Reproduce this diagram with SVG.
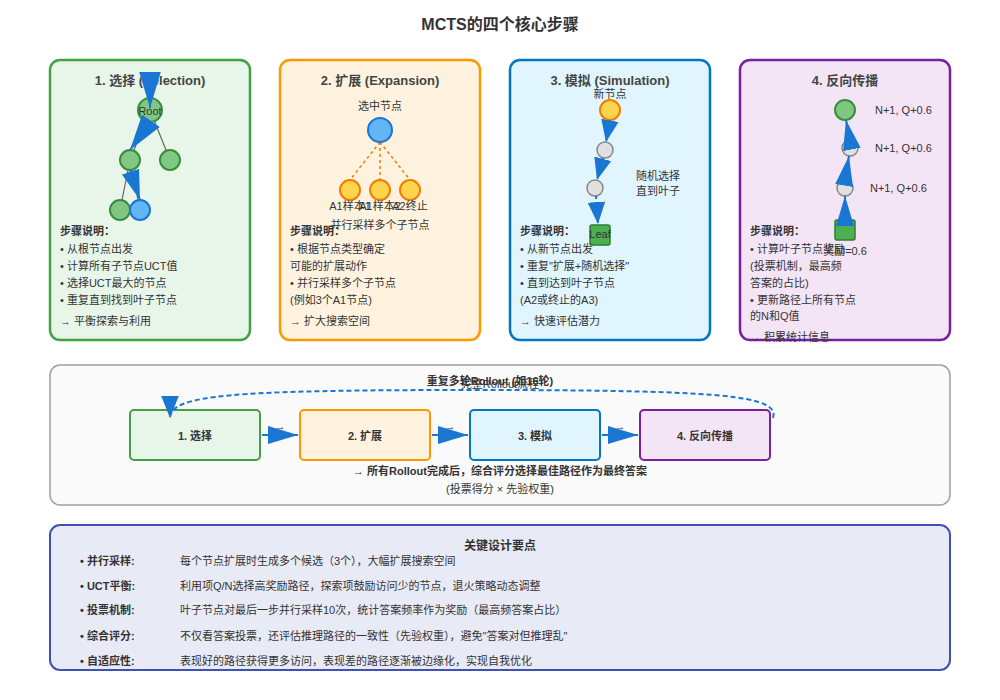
<svg xmlns="http://www.w3.org/2000/svg" width="1000" height="700" viewBox="0 0 1000 700">
<defs>
<style>
text{font-family:"Liberation Sans","Noto Sans CJK SC",sans-serif;fill:#333}
.t{font-size:13px;font-weight:bold;text-anchor:middle;fill:#444}
.s{font-size:11px}
.c{text-anchor:middle}
.b{font-weight:bold}
.ln{stroke:#666;stroke-width:1.2}
.bl{stroke:#1976d2;stroke-width:2;fill:none}
.gr{fill:#81c784;stroke:#388e3c;stroke-width:2}
.gy{fill:#e0e0e0;stroke:#888;stroke-width:1.5}
.ye{fill:#ffd54f;stroke:#f57c00;stroke-width:2}
</style>
<marker id="a" viewBox="0 0 10 10" refX="10" refY="5" markerWidth="22" markerHeight="22" markerUnits="userSpaceOnUse" orient="auto"><path d="M0,1 L10,5 L0,9 z" fill="#1976d2"/></marker>
<marker id="f" viewBox="0 0 10 10" refX="10" refY="5" markerWidth="30" markerHeight="30" markerUnits="userSpaceOnUse" orient="auto"><path d="M0,2 L10,5 L0,8 z" fill="#1976d2"/></marker>
<marker id="h" viewBox="0 0 10 10" refX="10" refY="5" markerWidth="36" markerHeight="36" markerUnits="userSpaceOnUse" orient="auto"><path d="M0,2 L10,5 L0,8 z" fill="#1976d2"/></marker>
</defs>
<rect width="1000" height="700" fill="#fff"/>
<text x="500" y="30" class="c b" style="font-size:16px">MCTS的四个核心步骤</text>

<g id="panel1">
<rect x="50" y="60" width="200" height="280" rx="10" fill="#e8f5e9" stroke="#43a047" stroke-width="2.5"/>
<text x="150" y="85" class="t">1. 选择 (Selection)</text>
<line x1="150" y1="110" x2="130" y2="160" class="ln"/><line x1="150" y1="110" x2="170" y2="160" class="ln"/>
<line x1="130" y1="160" x2="120" y2="210" class="ln"/><line x1="130" y1="160" x2="140" y2="210" class="ln"/>
<circle cx="150" cy="110" r="12" class="gr"/><text x="150" y="115" class="s c">Root</text>
<circle cx="130" cy="160" r="10" class="gr"/><circle cx="170" cy="160" r="10" class="gr"/>
<circle cx="120" cy="210" r="10" class="gr"/><circle cx="140" cy="210" r="10" fill="#64b5f6" stroke="#1976d2" stroke-width="2"/>
<text x="60" y="235" class="s b">步骤说明：</text>
<text x="60" y="253" class="s">• 从根节点出发</text>
<text x="60" y="270" class="s">• 计算所有子节点UCT值</text>
<text x="60" y="287" class="s">• 选择UCT最大的节点</text>
<text x="60" y="304" class="s">• 重复直到找到叶子节点</text>
<text x="60" y="325" class="s">→ 平衡探索与利用</text>
</g>

<g id="panel2">
<rect x="280" y="60" width="200" height="280" rx="10" fill="#fff3e0" stroke="#ff9800" stroke-width="2.5"/>
<text x="380" y="85" class="t">2. 扩展 (Expansion)</text>
<text x="380" y="110" class="s c">选中节点</text>
<g stroke="#f57c00" stroke-width="1.5" stroke-dasharray="3,3"><line x1="380" y1="142" x2="350" y2="180"/><line x1="380" y1="142" x2="380" y2="180"/><line x1="380" y1="142" x2="410" y2="180"/></g>
<circle cx="380" cy="130" r="12" fill="#64b5f6" stroke="#1976d2" stroke-width="2"/>
<circle cx="350" cy="190" r="10" class="ye"/><circle cx="380" cy="190" r="10" class="ye"/><circle cx="410" cy="190" r="10" class="ye"/>
<text x="350" y="210" class="s c">A1样本1</text><text x="380" y="210" class="s c">A1样本2</text><text x="410" y="210" class="s c">A2终止</text>
<text x="380" y="229" class="s c">并行采样多个子节点</text>
<text x="290" y="235" class="s b">步骤说明：</text>
<text x="290" y="253" class="s">• 根据节点类型确定</text>
<text x="290" y="270" class="s">可能的扩展动作</text>
<text x="290" y="287" class="s">• 并行采样多个子节点</text>
<text x="290" y="304" class="s">(例如3个A1节点)</text>
<text x="290" y="325" class="s">→ 扩大搜索空间</text>
</g>

<g id="panel3">
<rect x="510" y="60" width="200" height="280" rx="10" fill="#e1f5fe" stroke="#0277bd" stroke-width="2.5"/>
<text x="610" y="85" class="t">3. 模拟 (Simulation)</text>
<text x="610" y="98" class="s c">新节点</text>
<circle cx="610" cy="110" r="10" class="ye"/>
<circle cx="605" cy="150" r="8" class="gy"/><circle cx="595" cy="188" r="8" class="gy"/>
<rect x="590" y="225" width="20" height="20" rx="2" fill="#4caf50" stroke="#2e7d32" stroke-width="1.5"/>
<text x="600" y="238" class="s c">Leaf</text>
<text x="636" y="180" class="s">随机选择</text><text x="636" y="195" class="s">直到叶子</text>
<text x="520" y="235" class="s b">步骤说明：</text>
<text x="520" y="253" class="s">• 从新节点出发</text>
<text x="520" y="270" class="s">• 重复"扩展+随机选择"</text>
<text x="520" y="287" class="s">• 直到达到叶子节点</text>
<text x="520" y="304" class="s">(A2或终止的A3)</text>
<text x="520" y="325" class="s">→ 快速评估潜力</text>
</g>

<g id="panel4">
<rect x="740" y="60" width="210" height="280" rx="10" fill="#f3e5f5" stroke="#7b1fa2" stroke-width="2.5"/>
<text x="845" y="85" class="t">4. 反向传播</text>
<circle cx="845" cy="110" r="10" class="gr"/>
<circle cx="850" cy="148" r="8" class="gy"/><circle cx="845" cy="188" r="8" class="gy"/>
<rect x="835" y="220" width="20" height="20" rx="2" fill="#4caf50" stroke="#2e7d32" stroke-width="1.5"/>
<text x="875" y="114" class="s">N+1, Q+0.6</text>
<text x="875" y="152" class="s">N+1, Q+0.6</text>
<text x="870" y="192" class="s">N+1, Q+0.6</text>
<text x="750" y="235" class="s b">步骤说明：</text>
<text x="750" y="253" class="s">• 计算叶子节点奖励</text>
<text x="845" y="255" class="s c">奖励=0.6</text>
<text x="750" y="270" class="s">(投票机制，最高频</text>
<text x="750" y="287" class="s">答案的占比)</text>
<text x="750" y="304" class="s">• 更新路径上所有节点</text>
<text x="750" y="320" class="s">的N和Q值</text>
<text x="750" y="341" class="s">→ 积累统计信息</text>
</g>

<g id="flow">
<rect x="50" y="365" width="900" height="140" rx="10" fill="#fafafa" stroke="#9e9e9e" stroke-width="1.5"/>
<text x="490" y="385" class="s c b">重复多轮Rollout (如16轮)</text>
<text x="500" y="388" class="s c">完整Rollout流程</text>
<g id="s1"><rect x="130" y="410" width="130" height="50" rx="4" fill="#e8f5e9" stroke="#43a047" stroke-width="2"/><text x="195" y="440" class="s c b">1. 选择</text></g>
<g id="s2"><rect x="300" y="410" width="130" height="50" rx="4" fill="#fff3e0" stroke="#ff9800" stroke-width="2"/><text x="365" y="440" class="s c b">2. 扩展</text></g>
<g id="s3"><rect x="470" y="410" width="130" height="50" rx="4" fill="#e1f5fe" stroke="#0277bd" stroke-width="2"/><text x="535" y="440" class="s c b">3. 模拟</text></g>
<g id="s4"><rect x="640" y="410" width="130" height="50" rx="4" fill="#f3e5f5" stroke="#7b1fa2" stroke-width="2"/><text x="705" y="440" class="s c b">4. 反向传播</text></g>
<text x="280" y="430" class="s c">→</text><text x="450" y="430" class="s c">→</text><text x="620" y="430" class="s c">→</text>
<text x="500" y="475" class="s c b">→ 所有Rollout完成后，综合评分选择最佳路径作为最终答案</text>
<text x="500" y="493" class="s c">(投票得分 × 先验权重)</text>
</g>

<g id="connectors">
<line x1="150" y1="84" x2="150" y2="108" class="bl" marker-end="url(#h)"/>
<line x1="150" y1="122" x2="130" y2="150" class="bl" marker-end="url(#h)"/>
<line x1="130" y1="170" x2="140" y2="200" class="bl" marker-end="url(#f)"/>
<g stroke-dasharray="3,3">
<line x1="610" y1="120" x2="606" y2="142" class="bl" marker-end="url(#a)"/>
<line x1="603" y1="158" x2="597" y2="180" class="bl" marker-end="url(#a)"/>
<line x1="596" y1="196" x2="598" y2="224" class="bl" marker-end="url(#a)"/>
</g>
<line x1="845" y1="220" x2="845" y2="196" class="bl" marker-end="url(#f)"/>
<line x1="845" y1="180" x2="849" y2="156" class="bl" marker-end="url(#f)"/>
<line x1="850" y1="140" x2="846" y2="120" class="bl" marker-end="url(#f)"/>
<line x1="262" y1="435" x2="298" y2="435" class="bl" marker-end="url(#f)"/>
<line x1="432" y1="435" x2="468" y2="435" class="bl" marker-end="url(#f)"/>
<line x1="602" y1="435" x2="638" y2="435" class="bl" marker-end="url(#f)"/>
<path d="M773,418 C780,395 720,390 470,390 C230,390 170,395 170,418" class="bl" stroke-dasharray="5,3" marker-end="url(#a)"/>
</g>

<g id="keypoints">
<rect x="50" y="525" width="900" height="145" rx="10" fill="#e8eaf6" stroke="#3f51b5" stroke-width="2"/>
<text x="500" y="550" class="c b" style="font-size:12px">关键设计要点</text>
<g class="s">
<text x="80" y="565" class="b">• 并行采样:</text><text x="180" y="565">每个节点扩展时生成多个候选（3个），大幅扩展搜索空间</text>
<text x="80" y="590" class="b">• UCT平衡:</text><text x="180" y="590">利用项Q/N选择高奖励路径，探索项鼓励访问少的节点，退火策略动态调整</text>
<text x="80" y="614" class="b">• 投票机制:</text><text x="180" y="614">叶子节点对最后一步并行采样10次，统计答案频率作为奖励（最高频答案占比）</text>
<text x="80" y="640" class="b">• 综合评分:</text><text x="180" y="640">不仅看答案投票，还评估推理路径的一致性（先验权重），避免"答案对但推理乱"</text>
<text x="80" y="665" class="b">• 自适应性:</text><text x="180" y="665">表现好的路径获得更多访问，表现差的路径逐渐被边缘化，实现自我优化</text>
</g>
</g>
</svg>
